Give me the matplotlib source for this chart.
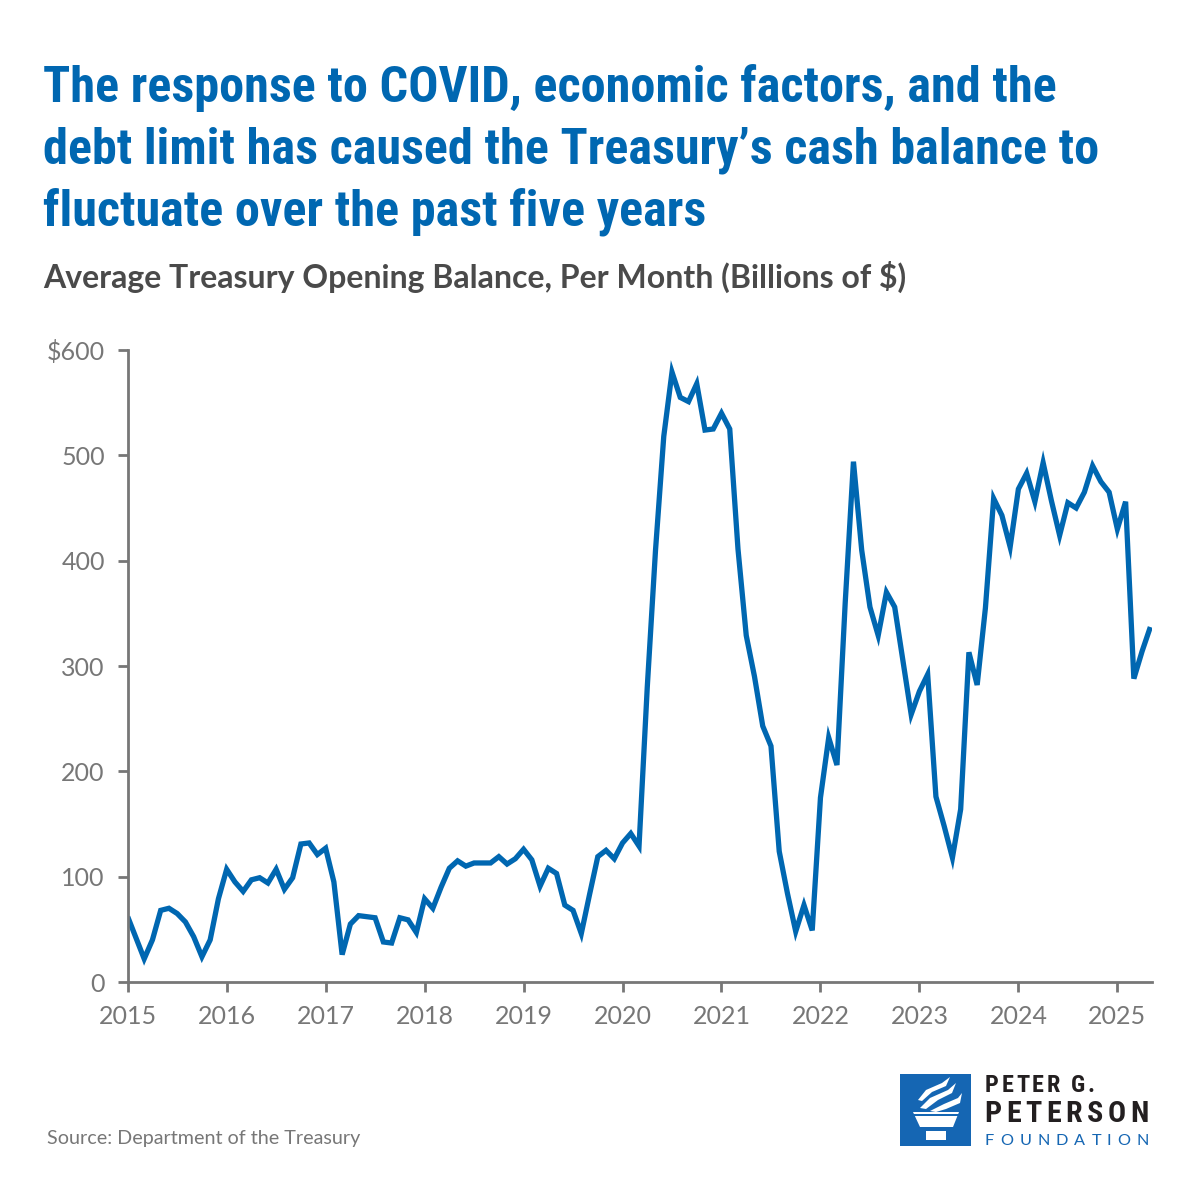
import matplotlib
matplotlib.use("Agg")
import matplotlib.pyplot as plt
from matplotlib import font_manager
from matplotlib.patches import Polygon, Rectangle
import numpy as np

# ---------------- data ----------------
start_year = 2015
balance = [
    # 2015
    62, 42, 22, 40, 68, 70, 65, 57, 43, 24, 40, 79,
    # 2016
    107, 95, 86, 97, 99, 94, 107, 88, 99, 131, 132, 121,
    # 2017
    127, 95, 26, 55, 63, 62, 61, 38, 37, 61, 59, 47,
    # 2018
    79, 70, 90, 108, 115, 110, 113, 113, 113, 119, 112, 117,
    # 2019
    126, 116, 91, 108, 103, 73, 68, 46, 83, 119, 125, 117,
    # 2020
    132, 141, 129, 280, 410, 518, 579, 555, 551, 568, 524, 525,
    # 2021
    540, 525, 411, 329, 290, 243, 224, 124, 84, 48, 73, 49,
    # 2022
    175, 232, 206, 360, 494, 410, 356, 329, 370, 356, 305, 254,
    # 2023
    276, 292, 176, 148, 118, 164, 313, 282, 355, 459, 443, 413,
    # 2024
    468, 483, 456, 493, 457, 424, 455, 450, 465, 490, 475, 465,
    # 2025
    430, 456, 288, 314, 337,
]
x_ticks = list(range(2015, 2026))
y_ticks = [0, 100, 200, 300, 400, 500, 600]
y_tick_labels = ["0", "100", "200", "300", "400", "500", "$600"]

title_lines = ["The response to COVID, economic factors, and the",
               "debt limit has caused the Treasury\u2019s cash balance to",
               "fluctuate over the past five years"]
subtitle = "Average Treasury Opening Balance, Per Month (Billions of $)"
source = "Source: Department of the Treasury"

# ---------------- fonts ----------------
available = {f.name for f in font_manager.fontManager.ttflist}
def pick(cands):
    for c in cands:
        if c in available:
            return c
    return "DejaVu Sans"

cond_font = pick(["Roboto Condensed", "Liberation Sans Narrow", "Roboto"])
body_font = pick(["Lato", "Open Sans", "Roboto"])

BLUE = "#0067B1"
LOGO_BLUE = "#1566B3"
DARK = "#231F20"
GRAY = "#777777"

fig = plt.figure(figsize=(12, 12), dpi=100)
fig.patch.set_facecolor("white")

W, H = 1200, 1200
ax = fig.add_axes([127.7 / W, 1 - 982 / H, (1152 - 127.7) / W, (982 - 350) / H])

x = start_year + np.arange(len(balance)) / 12.0
ax.plot(x, balance, color=BLUE, lw=3.8, solid_joinstyle="miter", solid_capstyle="butt")

ax.set_xlim(start_year, start_year + 124.2 / 12)
ax.set_ylim(0, 600)
ax.set_xticks(x_ticks)
ax.set_xticklabels([str(t) for t in x_ticks])
ax.set_yticks(y_ticks)
ax.set_yticklabels(y_tick_labels)

for s in ["top", "right"]:
    ax.spines[s].set_visible(False)
for s in ["left", "bottom"]:
    ax.spines[s].set_color(GRAY)
    ax.spines[s].set_linewidth(2)
ax.tick_params(axis="both", colors=GRAY, length=7.5, width=2, direction="out",
               labelsize=18, pad=9)
for lab in ax.get_xticklabels() + ax.get_yticklabels():
    lab.set_fontfamily(body_font)
    lab.set_color(GRAY)

# ---------------- texts ----------------
baselines = [101.7, 163.5, 225.3]
for line, yb in zip(title_lines, baselines):
    fig.text(43 / W, 1 - yb / H, line, ha="left", va="baseline", color=BLUE,
             fontsize=36.2, fontweight="bold", family=cond_font)
fig.text(43 / W, 1 - 288 / H, subtitle, ha="left", va="baseline", color="#4A4A4A",
         fontsize=23, fontweight="bold", family=body_font)
fig.text(47 / W, 1 - 1144 / H, source, ha="left", va="baseline", color=GRAY,
         fontsize=14.2, family=body_font)

# ---------------- logo ----------------
ov = fig.add_axes([0, 0, 1, 1], zorder=-1)
ov.set_xlim(0, W)
ov.set_ylim(H, 0)
ov.axis("off")
ov.add_patch(Rectangle((900, 1074), 71, 72, facecolor=LOGO_BLUE, edgecolor="none"))
ov.add_patch(Polygon([(913, 1112), (959, 1112), (953, 1127), (920, 1127)],
                     closed=True, facecolor="white", edgecolor="none"))
ov.add_patch(Rectangle((913, 1113.5), 46, 2.5, facecolor=LOGO_BLUE, edgecolor="none"))
ov.add_patch(Rectangle((926, 1131), 20, 9, facecolor="white", edgecolor="none"))
ov.add_patch(Polygon([(920, 1108), (930, 1098), (948, 1090), (956, 1083), (952, 1093),
                      (938, 1100), (926, 1109)], closed=True, facecolor="white", edgecolor="none"))
ov.add_patch(Polygon([(918, 1100), (926, 1090), (942, 1083), (950, 1077), (946, 1086),
                      (932, 1092), (922, 1101)], closed=True, facecolor="white", edgecolor="none"))
ov.add_patch(Polygon([(930, 1111), (944, 1104), (958, 1098), (962, 1093), (960, 1103),
                      (946, 1109), (936, 1112)], closed=True, facecolor="white", edgecolor="none"))

renderer = fig.canvas.get_renderer()

def tracked_text(x0, x1, yb, s, **kw):
    """Place the letters of a logo word so that it spans x0..x1 (pixels)."""
    arts, widths = [], []
    for ch in s:
        t = fig.text(0, 1 - yb / H, ch, ha="left", va="baseline", **kw)
        bb = t.get_window_extent(renderer)
        arts.append(t)
        widths.append(bb.width if ch != " " else kw.get("fontsize", 12) * 0.35)
    natural = sum(widths)
    gap = (x1 - x0 - natural) / max(len(s) - 1, 1)
    cx = x0
    for t, w in zip(arts, widths):
        t.set_x(cx / W)
        cx += w + gap

tracked_text(985, 1095, 1092.3, "PETER G.", color=DARK, fontsize=17.5,
             fontweight="bold", family=cond_font)
tracked_text(984, 1149, 1122.3, "PETERSON", color=DARK, fontsize=21.6,
             fontweight="bold", family=cond_font)
tracked_text(985, 1149, 1145, "FOUNDATION", color=LOGO_BLUE, fontsize=11.7,
             family=body_font)

fig.savefig("out.png", dpi=100, facecolor="white")
